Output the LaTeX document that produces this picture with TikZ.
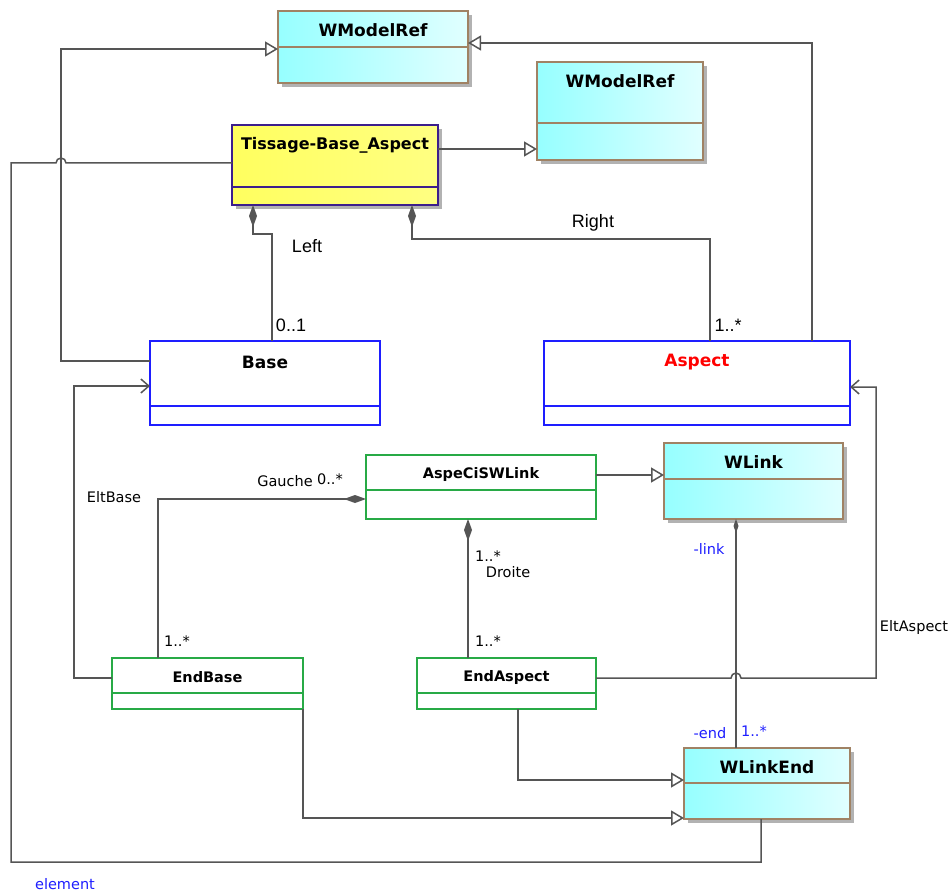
\documentclass[tikz,border=0pt]{standalone}
\usepackage{fontspec}
\setmainfont{Liberation Sans}
\newfontfamily\tahoma{DejaVu Sans}
\usetikzlibrary{arrows.meta,shadows}
\definecolor{lc}{RGB}{85,85,85}
\definecolor{cyanL}{RGB}{150,255,255}
\definecolor{cyanR}{RGB}{225,255,255}
\definecolor{brd}{RGB}{160,130,100}
\definecolor{yelL}{RGB}{255,255,95}
\definecolor{yelR}{RGB}{255,255,130}
\definecolor{purp}{RGB}{60,30,140}
\definecolor{bluB}{RGB}{30,30,255}
\definecolor{grn}{RGB}{40,170,70}
\tikzset{
  cls/.style={rectangle, inner sep=0pt, outer sep=0pt, line width=1.5pt},
  shd/.style={drop shadow={shadow xshift=4pt, shadow yshift=-4pt, fill=black!30, opacity=1}},
  refbox/.style={cls, shd, draw=brd, left color=cyanL, right color=cyanR},
  yelbox/.style={cls, shd, draw=purp, left color=yelL, right color=yelR},
  bluebox/.style={cls, draw=bluB, fill=white},
  grnbox/.style={cls, draw=grn, fill=white},
  ttl/.style={font=\tahoma\bfseries\fontsize{17}{20}\selectfont, inner sep=0pt},
  ttlsm/.style={font=\tahoma\bfseries\fontsize{14.5}{17}\selectfont, inner sep=0pt},
  lbl/.style={font=\fontsize{18}{21}\selectfont, inner sep=0pt},
  lblsm/.style={font=\tahoma\fontsize{14.5}{17}\selectfont, inner sep=0pt},
  conn/.style={draw=lc, line width=1.5pt},
  gen/.style={conn, -{Triangle[length=13pt, width=15pt, fill=white, line width=1.5pt]}},
  nav/.style={conn, -{Straight Barb[length=8pt, width=14pt, line width=1.5pt]}},
  comp/.style={conn, {Diamond[length=22pt, width=8pt]}-},
  compsm/.style={conn, {Diamond[length=14pt, width=5pt]}-}
}
\begin{document}
\begin{tikzpicture}[x=1pt, y=-1pt]
    \useasboundingbox (0,0) rectangle (952,893);
    % classes
    \node[refbox, minimum width=190, minimum height=72] (wm1) at (373,47) {};
    \draw[brd, line width=1.5pt] (wm1.west |- 0,47) -- (wm1.east |- 0,47);
    \node[ttl] (wm1t) at (373,30) {WModelRef};
    \node[refbox, minimum width=166, minimum height=98] (wm2) at (620,111) {};
    \draw[brd, line width=1.5pt] (wm2.west |- 0,123) -- (wm2.east |- 0,123);
    \node[ttl] (wm2t) at (620,81) {WModelRef};
    \node[yelbox, minimum width=206, minimum height=80] (tis) at (335,165) {};
    \draw[purp, line width=1.5pt] (tis.west |- 0,187) -- (tis.east |- 0,187);
    \node[ttl, font=\tahoma\bfseries\fontsize{16}{19}\selectfont] (tist) at (335,145) {Tissage-Base\_Aspect};
    \node[bluebox, minimum width=230, minimum height=84] (base) at (265,383) {};
    \draw[bluB, line width=1.5pt] (base.west |- 0,406) -- (base.east |- 0,406);
    \node[ttl] (baset) at (265,362) {Base};
    \node[bluebox, minimum width=306, minimum height=84] (asp) at (697,383) {};
    \draw[bluB, line width=1.5pt] (asp.west |- 0,406) -- (asp.east |- 0,406);
    \node[ttl, text=red] (aspt) at (697,362) {Aspect};
    \node[grnbox, minimum width=230, minimum height=64] (acl) at (481,487) {};
    \draw[grn, line width=1.5pt] (acl.west |- 0,490) -- (acl.east |- 0,490);
    \node[ttlsm] (aclt) at (481,474) {AspeCiSWLink};
    \node[refbox, minimum width=179, minimum height=76] (wl) at (753.5,481) {};
    \draw[brd, line width=1.5pt] (wl.west |- 0,479) -- (wl.east |- 0,479);
    \node[ttl] (wlt) at (753.5,462) {WLink};
    \node[grnbox, minimum width=191, minimum height=51] (eb) at (207.5,683.5) {};
    \draw[grn, line width=1.5pt] (eb.west |- 0,693) -- (eb.east |- 0,693);
    \node[ttlsm] (ebt) at (207.5,677) {EndBase};
    \node[grnbox, minimum width=179, minimum height=51] (ea) at (506.5,683.5) {};
    \draw[grn, line width=1.5pt] (ea.west |- 0,693) -- (ea.east |- 0,693);
    \node[ttlsm] (eat) at (506.5,677) {EndAspect};
    \node[refbox, minimum width=166, minimum height=71] (wle) at (767,783.5) {};
    \draw[brd, line width=1.5pt] (wle.west |- 0,783) -- (wle.east |- 0,783);
    \node[ttl] (wlet) at (767,767) {WLinkEnd};
    % generalizations
    \draw[gen] (base.west |- 0,361) -- ++(-89,0) |- (wm1.west |- 0,49);
    \draw[gen] (asp.north -| 812,0) |- (wm1.east |- 0,43);
    \draw[gen] (tis.east |- 0,149) -- (wm2.west |- 0,149);
    \draw[gen] (acl.east |- 0,475) -- (wl.west |- 0,475);
    \draw[gen] (ea.south -| 518,0) |- (wle.west |- 0,780);
    \draw[gen] (eb.south east) |- (wle.west |- 0,818);
    % compositions
    \draw[comp] (tis.south -| 253,0) -- ++(0,29) -| (base.north -| 272,0);
    \draw[comp] (tis.south -| 412,0) -- ++(0,34) -| (asp.north -| 710,0);
    \draw[comp] (acl.west |- 0,499) -| (eb.north -| 158,0);
    \draw[comp] (acl.south -| 468,0) -- (ea.north -| 468,0);
    \draw[compsm] (wl.south -| 736,0) -- (wle.north -| 736,0);
    % associations (with hops)
    \draw[conn] (wle.south -| 761,0) -- ++(0,43) -| (11,163) -- (56,163)
        arc[start angle=180, end angle=360, radius=5] -- (tis.west |- 0,163);
    \draw[nav] (eb.west |- 0,678) -- ++(-38,0) |- (base.west |- 0,386);
    \draw[nav] (ea.east |- 0,678) -- (731,678)
        arc[start angle=180, end angle=360, radius=5] -- (876,678) |- (asp.east |- 0,387);
    % labels
    \node[lbl] (lleft) at (307,246) {Left};
    \node[lbl] (lbase) at (291,325) {0..1};
    \node[lbl] (lright) at (593,223) {Right};
    \node[lbl] (lasp) at (728,325) {1..*};
    \node[lblsm] (lgauche) at (285,481) {Gauche};
    \node[lblsm] (lgm) at (330,479) {0..*};
    \node[lblsm] (leltbase) at (114,497) {EltBase};
    \node[lblsm] (lebm) at (177,641) {1..*};
    \node[lblsm] (ldm) at (488,556) {1..*};
    \node[lblsm] (ldroite) at (508,572) {Droite};
    \node[lblsm] (leam) at (488,641) {1..*};
    \node[lblsm] (leltasp) at (914,627) {EltAspect};
    \node[lblsm, text=bluB] (llink) at (709,549) {-link};
    \node[lblsm, text=bluB] (lend) at (710,733) {-end};
    \node[lblsm, text=bluB] (lendm) at (754,731) {1..*};
    \node[lblsm, text=bluB] (lelem) at (65,884) {element};
\end{tikzpicture}
\end{document}
